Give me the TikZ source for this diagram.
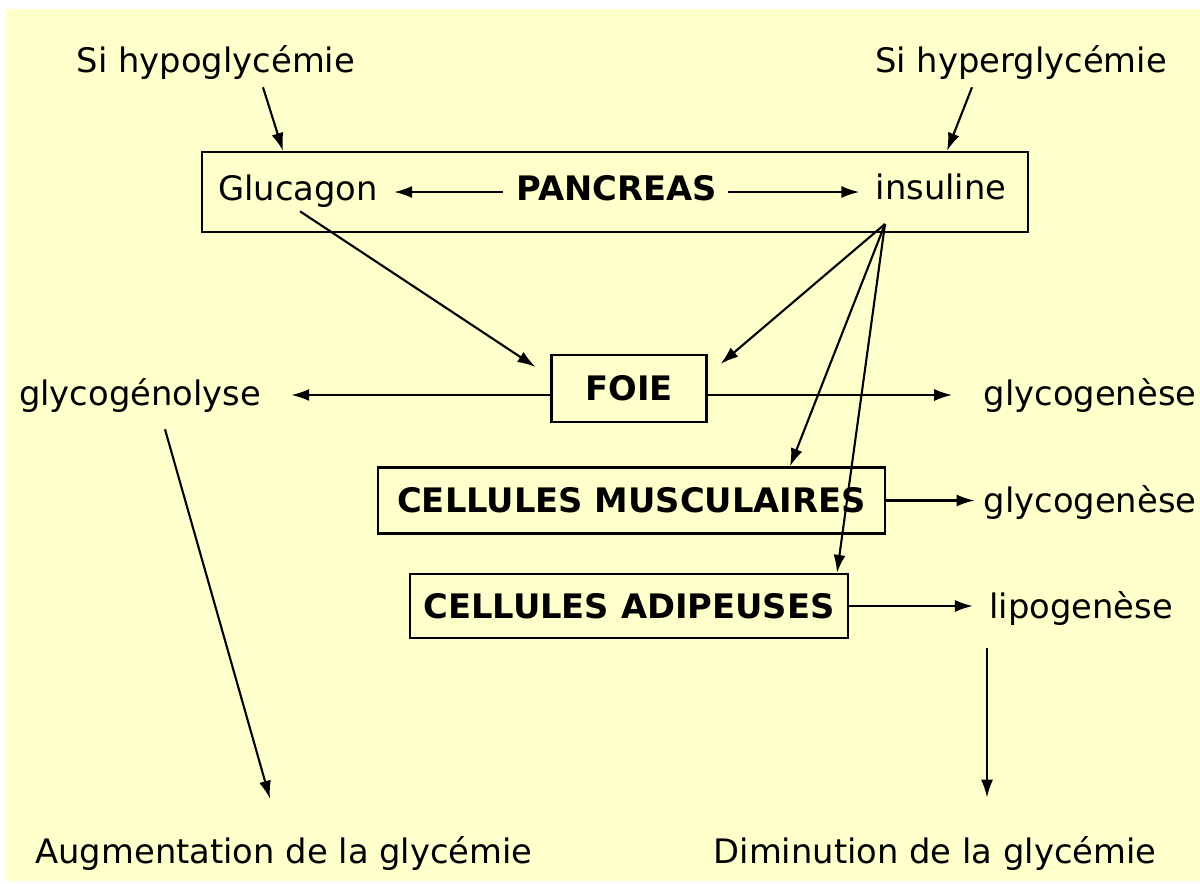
\documentclass[tikz,border=0pt]{standalone}
\usepackage{fontspec}
\setmainfont{DejaVu Sans}
\usetikzlibrary{arrows.meta}
\definecolor{paper}{HTML}{FFFFCC}
\begin{document}
\begin{tikzpicture}[x=0.025cm,y=-0.025cm,
  lbl/.style={font=\fontsize{24}{28}\selectfont, inner sep=0pt, anchor=base},
  boldlbl/.style={lbl, font=\bfseries\fontsize{24}{28}\selectfont},
  organ/.style={draw, line width=1.5pt, font=\bfseries\fontsize{24}{28}\selectfont, inner sep=0pt},
  arr/.style={line width=1.5pt, -{Latex[length=0.45cm,width=0.3cm]}},
]
\useasboundingbox (0,0) rectangle (1200,883);
\fill[paper] (6,9) rectangle (1200,881);

% triggers
\node[lbl] (hypo)  at (216,72)  {Si hypoglycémie};
\node[lbl] (hyper) at (1021,72) {Si hyperglycémie};

% pancreas and its hormones
\node[draw, line width=1.5pt, minimum width=20.65cm, minimum height=2cm, inner sep=0pt] (pancbox) at (615,192) {};
\node[lbl] (gluc) at (298,200) {Glucagon};
\node[boldlbl] (panc) at (617,200) {PANCREAS};
\node[lbl] (ins) at (941,199) {insuline};

% target organs
\node[organ, minimum width=3.875cm, minimum height=1.675cm] (foie) at (629,388.5) {\raisebox{-2pt}{FOIE}};
\node[organ, minimum width=12.675cm, minimum height=1.65cm] (muscle) at (631.5,500.5) {CELLULES MUSCULAIRES};
\node[organ, minimum width=10.95cm, minimum height=1.6cm] (adip) at (629,606) {CELLULES ADIPEUSES};

% processes
\node[lbl] (gno)  at (140,405)  {glycogénolyse};
\node[lbl] (gen1) at (1090,405) {glycogenèse};
\node[lbl] (gen2) at (1090,512) {glycogenèse};
\node[lbl] (lipo) at (1081,618) {lipogenèse};

% outcomes
\node[lbl] (augm)  at (284,863) {Augmentation de la glycémie};
\node[lbl] (dimin) at (935,863) {Diminution de la glycémie};

% connection points
\coordinate (pancL) at (503,192);
\coordinate (pancR) at (728,192);
\coordinate (insFan) at (885,224);
\coordinate (foieL) at (foie.west |- 0,395);
\coordinate (foieR) at (foie.east |- 0,395);
\coordinate (lipoOut) at (987,648);

% arrows
\draw[arr] ([shift={(47,8)}]hypo.south) -- (pancbox.north -| 283,0);
\draw[arr] ([shift={(-49,8)}]hyper.south) -- (pancbox.north -| 947,0);
\draw[arr, shorten >=0.4cm] (pancL) -- (gluc.east |- pancL);
\draw[arr, shorten >=0.4cm] (pancR) -- (ins.west |- pancR);

\draw[arr] ([shift={(2,4)}]gluc.south) -- ([shift={(-15,13)}]foie.north west);
\draw[arr] (insFan) -- ([shift={(13,10)}]foie.north east);
\draw[arr] (insFan) -- (muscle.north -| 790,0);
\draw[arr] (insFan) -- (adip.north -| 837,0);

\draw[arr, shorten >=0.75cm] (foieL) -- (gno.east |- foieL);
\draw[arr, shorten >=0.78cm] (foieR) -- (gen1.west |- foieR);
\draw[arr, shorten >=0.22cm] (muscle.east) -- (gen2.west |- muscle.east);
\draw[arr, shorten >=0.4cm] (adip.east) -- (lipo.west |- adip.east);

\draw[arr] ([shift={(25,17)}]gno.south) -- ([shift={(-14,-37)}]augm.north);
\draw[arr, shorten >=0.95cm] (lipoOut) -- (lipoOut |- dimin.north);
\end{tikzpicture}
\end{document}
